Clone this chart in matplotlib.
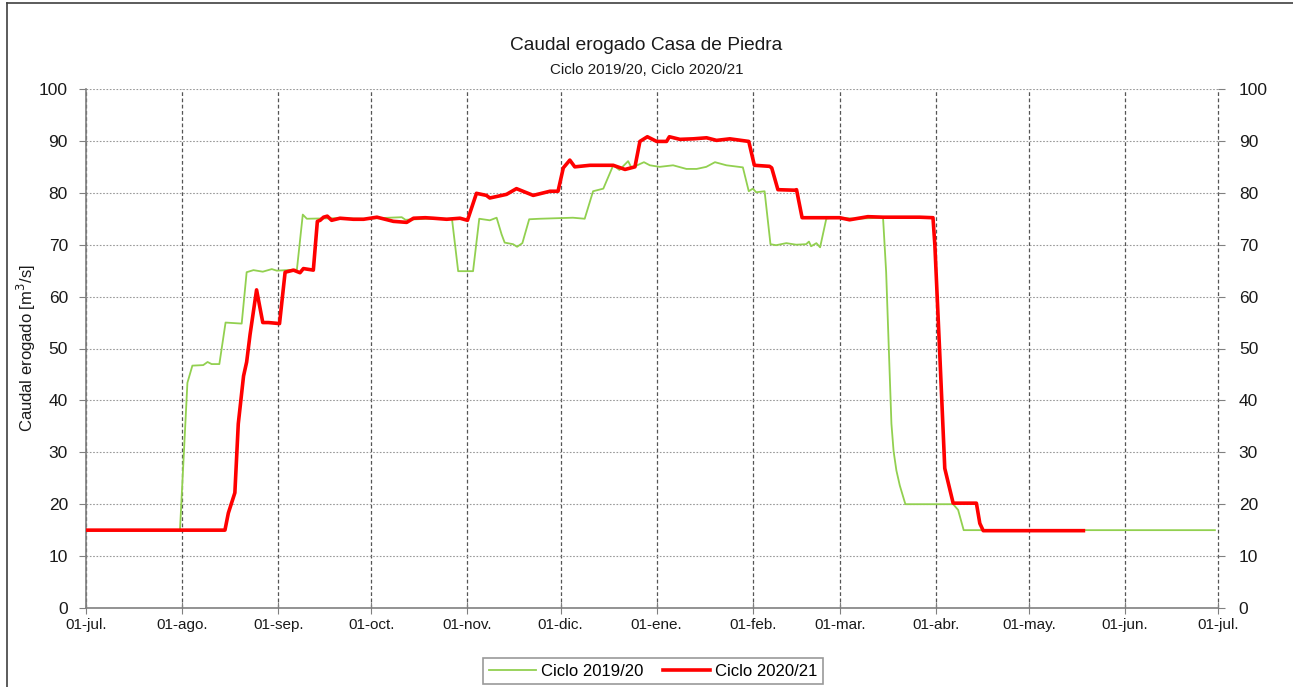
import matplotlib

matplotlib.use("Agg")

import matplotlib.pyplot as plt
from matplotlib.lines import Line2D

plt.rcParams["font.family"] = ["Liberation Sans", "DejaVu Sans"]

# days counted from 01-jul
month_days = [0, 31, 62, 92, 123, 153, 184, 215, 243, 274, 304, 335, 365]
month_labels = ["01-jul.", "01-ago.", "01-sep.", "01-oct.", "01-nov.", "01-dic.", "01-ene.",
                "01-feb.", "01-mar.", "01-abr.", "01-may.", "01-jun.", "01-jul."]

# Ciclo 2019/20 (m3/s)
days_1920 = [0, 30.3, 32.7, 34.3, 37.8, 39.2, 40.5, 43, 45, 50.2, 51.8, 54, 57, 59.9, 61.5, 68,
             69.9, 71.2, 80, 90, 101.8, 103, 110, 118, 120, 124.8, 126.8, 130.2, 132.4, 134, 135,
             137.7, 139, 140.7, 142.9, 146.3, 157, 160.8, 163.5, 166.8, 170, 172, 174.8, 175.9,
             179.9, 181.8, 185, 189.3, 193.6, 196.9, 200, 202.8, 206.5, 211.8, 213.7, 215, 216.1,
             218.8, 220.7, 222.5, 225.8, 229, 232.2, 233.1, 233.8, 235.5, 236.7, 238.7, 240.8,
             248, 257, 258, 259.7, 260.4, 261.3, 262.4, 263.4, 264.2, 279.6, 281.2, 283, 364]
flow_1920 = [15, 15, 43.4, 46.7, 46.8, 47.4, 47.0, 47.0, 55, 54.8, 64.7, 65.1, 64.8, 65.3, 65.0, 65.2,
             75.8, 75.0, 75.1, 75.0, 75.3, 74.8, 75.0, 75.0, 64.9, 64.9, 75.0, 74.7, 75.2, 72.0, 70.4,
             70.1, 69.6, 70.3, 74.9, 75.0, 75.2, 75.0, 80.3, 80.8, 85.3, 84.4, 86.1, 84.8,
             85.9, 85.3, 85.0, 85.3, 84.6, 84.6, 85.0, 85.9, 85.3, 84.9, 80.3, 80.8, 80.1,
             80.3, 70.1, 69.9, 70.3, 70.0, 70.1, 70.6, 69.7, 70.3, 69.5, 75.0, 75.3,
             75.0, 75.2, 64.7, 35.5, 30.2, 26.5, 23.6, 21.6, 20.0, 20.0, 18.9, 15, 15]

# Ciclo 2020/21 (m3/s)
days_2021 = [0, 44.8, 45.9, 48, 49.1, 50.8, 51.8, 52.9, 55, 57, 58.8, 62.4, 64.2, 66.9, 69, 70.1,
             73.3, 74.6, 75.5, 76.6, 77.8, 79.2, 81.9, 86.2, 89.5, 93.8, 99.1, 103.4, 105.6, 109.4,
             112, 116.3, 120.6, 123, 125.9, 129.1, 130.2, 135.6, 138.8, 144.2, 149.6, 152.2, 153.9,
             156, 157.6, 162.5, 170, 173.8, 177, 178.6, 181, 184, 187.2, 188.1, 191.5, 195.8, 200.1,
             203.3, 207.6, 213.7, 215.5, 220.4, 221.1, 223.1, 228.5, 229.1, 230.9, 236.5, 243,
             246.2, 252.1, 257, 262.4, 268.8, 273.1, 273.7, 275.3, 276.9, 279.6, 287.1, 288.2,
             289.3, 321.6]
flow_2021 = [15, 15, 18.3, 22.2, 35.5, 44.7, 47.4, 52.7, 61.3, 55, 55, 54.8, 64.7, 65.1, 64.6, 65.4,
             65.1, 74.5, 74.7, 75.3, 75.5, 74.7, 75.1, 74.9, 74.9, 75.3, 74.5, 74.3, 75.1, 75.2,
             75.1, 74.9, 75.1, 74.7, 79.9, 79.5, 79.0, 79.7, 80.8, 79.5, 80.3, 80.3, 84.8,
             86.3, 85.0, 85.3, 85.3, 84.5, 85.0, 89.9, 90.8, 89.9, 89.9, 90.8, 90.3, 90.4, 90.6,
             90.1, 90.4, 89.9, 85.3, 85.1, 84.8, 80.6, 80.5, 80.6, 75.2, 75.2, 75.2,
             74.8, 75.4, 75.3, 75.3, 75.3, 75.2, 70.0, 48.8, 26.9, 20.2, 20.2, 16.3,
             14.9, 14.9]

fig = plt.figure(figsize=(12.93, 6.87), dpi=100)
ax = fig.add_axes([86 / 1293, 1 - 608 / 687, 1132 / 1293, 519 / 687])

# outer chart border
fig.add_artist(Line2D([7 / 1293, 7 / 1293], [0, 1 - 3 / 687], transform=fig.transFigure,
                      color="#404040", lw=1.2))
fig.add_artist(Line2D([7 / 1293, 1], [1 - 3 / 687, 1 - 3 / 687], transform=fig.transFigure,
                      color="#404040", lw=1.2))

ax.plot(days_1920, flow_1920, color="#92D050", lw=1.3, label="Ciclo 2019/20", zorder=3)
ax.plot(days_2021, flow_2021, color="#FF0000", lw=2.6, label="Ciclo 2020/21", zorder=4)

ax.set_xlim(0, 365)
ax.set_ylim(0, 100)
ax.set_xticks(month_days)
ax.set_xticklabels(month_labels)
ax.set_yticks(range(0, 101, 10))
ax.grid(axis="y", color="#9a9a9a", linestyle=(0, (1.5, 1.5)), lw=0.8)
ax.grid(axis="x", color="#555555", linestyle=(0, (3, 2)), lw=0.9)
ax.set_axisbelow(True)
for gl in ax.get_xgridlines():
    gl.set_clip_on(False)

for side in ("top", "right"):
    ax.spines[side].set_visible(False)
for side in ("left", "bottom"):
    ax.spines[side].set_color("#808080")
    ax.spines[side].set_linewidth(1.2)

ax.tick_params(axis="x", direction="inout", length=8, color="#808080", labelsize=11,
               pad=3, labelcolor="#1a1a1a")
ax.tick_params(axis="y", direction="out", length=5, color="#808080", labelsize=12.5,
               pad=8, labelcolor="#1a1a1a")

ax2 = ax.twinx()
ax2.set_ylim(0, 100)
ax2.set_yticks(range(0, 101, 10))
for side in ("top", "right", "left", "bottom"):
    ax2.spines[side].set_visible(False)
ax2.tick_params(axis="y", direction="out", length=5, color="#808080", labelsize=12.5,
                pad=10, labelcolor="#1a1a1a")

ax.set_ylabel("Caudal erogado [m$^3$/s]", fontsize=12, labelpad=1, color="#1a1a1a")

fig.text(0.5, 1 - 46 / 687, "Caudal erogado Casa de Piedra", ha="center", va="center",
         fontsize=13.8, color="#1a1a1a")
fig.text(0.5, 1 - 70 / 687, "Ciclo 2019/20, Ciclo 2020/21", ha="center", va="center",
         fontsize=10.9, color="#1a1a1a")

leg = ax.legend(loc="center", bbox_to_anchor=(653 / 1293, 1 - 671 / 687),
                bbox_transform=fig.transFigure, ncol=2, fontsize=12, frameon=True,
                fancybox=False, handlelength=2.8, handletextpad=0.3, columnspacing=1.2,
                borderpad=0.35)
leg.get_frame().set_edgecolor("#808080")
leg.get_frame().set_linewidth(1.2)

fig.savefig("out.png", dpi=100)
